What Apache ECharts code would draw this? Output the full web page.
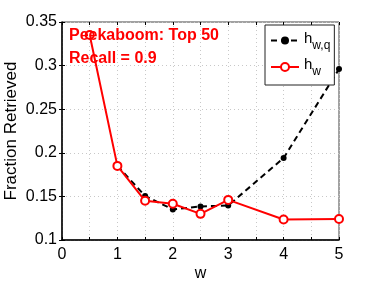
<!DOCTYPE html>
<html><head><meta charset="utf-8">
<script src="https://cdn.jsdelivr.net/npm/echarts@6/dist/echarts.min.js"></script>
<style>html,body{margin:0;padding:0;background:#fff}#c{width:374px;height:281px}</style>
</head><body><div id="c"></div>
<script>
var xQ = [1, 1.5, 2, 2.5, 3, 4, 5];
var yQ = [0.185, 0.1505, 0.135, 0.1385, 0.1395, 0.194, 0.296];
var xW = [0.5, 1, 1.5, 2, 2.5, 3, 4, 5];
var yW = [0.335, 0.185, 0.145, 0.1415, 0.130, 0.146, 0.1235, 0.124];
var seriesNames = ['hwq', 'hw'];
var titleLines = ['Peekaboom: Top 50', 'Recall = 0.9'];
var xName = 'w', yName = 'Fraction Retrieved';

function pairs(xs, ys){ return xs.map(function(x,i){ return [x, ys[i]]; }); }
var F = 'Liberation Sans, Arial, sans-serif';
var chart = echarts.init(document.getElementById('c'));
function gridLine(){ return {show:true, lineStyle:{color:'#c8c8c8', type:[1,3], width:1}}; }
chart.setOption({
  animation:false,
  textStyle:{fontFamily:F},
  grid:{left:62, right:35, top:22, bottom:41, show:true, borderColor:'#444', borderWidth:1, containLabel:false, outerBoundsMode:'none'},
  title:{text: titleLines.join('\n'), left:64, top:19,
    textStyle:{color:'#ff0000', fontSize:16, fontWeight:'bold', fontFamily:F, lineHeight:23}},
  legend:{orient:'vertical', left:265, top:25, data: seriesNames,
    backgroundColor:'#fff', borderColor:'#222', borderWidth:1, padding:[6,4,7,5],
    itemWidth:28, itemHeight:10, itemGap:6,
    formatter:function(n){ return n==='hwq' ? '{h|h}{s|w,q}' : '{h|h}{s|w}'; },
    textStyle:{fontFamily:F, color:'#000', rich:{
      h:{fontSize:15, fontFamily:F, color:'#000', padding:[0,0,4,0]},
      s:{fontSize:12, fontFamily:F, color:'#000', padding:[10,0,0,0]}
    }}},
  xAxis:[{type:'value', min:0, max:5, interval:0.5, name:xName, nameLocation:'middle', nameGap:26,
    nameMoveOverlap:false,
    nameTextStyle:{fontSize:16, color:'#000', fontFamily:F},
    axisLine:{show:true, lineStyle:{color:'#000', width:1.5}},
    axisTick:{show:true, inside:true, length:3, lineStyle:{color:'#000'}},
    axisLabel:{fontSize:16, color:'#000', margin:7, fontFamily:F,
      formatter:function(v){ return (Math.abs(v-Math.round(v))<1e-9) ? String(Math.round(v)) : ''; }},
    splitLine:gridLine()},
    {type:'value', min:0, max:5, interval:0.5, position:'top', axisLine:{show:false},
     axisTick:{show:true, inside:true, length:3, lineStyle:{color:'#000'}}, axisLabel:{show:false}, splitLine:{show:false}}],
  yAxis:[{type:'value', min:0.1, max:0.35, interval:0.05, name:yName, nameLocation:'middle', nameGap:42,
    nameMoveOverlap:false,
    nameTextStyle:{fontSize:17, color:'#000', fontFamily:F},
    axisLine:{show:true, lineStyle:{color:'#000', width:1.5}},
    axisTick:{show:true, inside:true, length:3, lineStyle:{color:'#000'}},
    axisLabel:{fontSize:16, color:'#000', margin:5, fontFamily:F,
      formatter:function(v){ return String(+v.toFixed(2)); }},
    splitLine:gridLine()},
    {type:'value', min:0.1, max:0.35, interval:0.05, position:'right', axisLine:{show:false},
     axisTick:{show:true, inside:true, length:3, lineStyle:{color:'#000'}}, axisLabel:{show:false}, splitLine:{show:false}}],
  series:[
    {name:'hwq', type:'line', data:pairs(xQ,yQ), symbol:'circle', symbolSize:6, showSymbol:true,
     lineStyle:{color:'#000', width:2, type:[6,4]}, itemStyle:{color:'#000'}, z:3},
    {name:'hw', type:'line', data:pairs(xW,yW), symbol:'emptyCircle', symbolSize:8, showSymbol:true,
     lineStyle:{color:'#ff0000', width:2, type:'solid'}, itemStyle:{color:'#ff0000', borderColor:'#ff0000', borderWidth:1.5}, z:4}
  ]
});
</script></body></html>
